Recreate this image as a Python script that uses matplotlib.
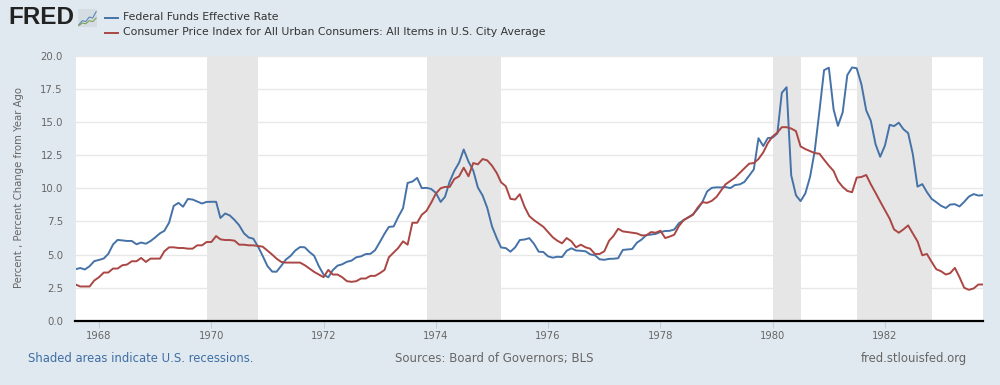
import pandas as pd
import matplotlib
matplotlib.use("Agg")
import matplotlib.pyplot as plt
import matplotlib.dates as mdates

# monthly values, Aug 1967 - Oct 1983
dates = pd.date_range("1967-08-01", "1983-10-01", freq="MS")

fedfunds = [3.90, 3.99, 3.88, 4.13, 4.51,
            4.60, 4.71, 5.05, 5.76, 6.11, 6.07, 6.03, 6.03, 5.78, 5.91, 5.82, 6.02,
            6.30, 6.61, 6.79, 7.41, 8.67, 8.90, 8.61, 9.19, 9.15, 9.00, 8.85, 8.97,
            8.98, 8.98, 7.76, 8.10, 7.95, 7.61, 7.21, 6.61, 6.29, 6.20, 5.60, 4.90,
            4.14, 3.72, 3.71, 4.16, 4.63, 4.91, 5.31, 5.57, 5.55, 5.20, 4.91, 4.14,
            3.50, 3.29, 3.83, 4.17, 4.27, 4.46, 4.55, 4.80, 4.87, 5.04, 5.06, 5.33,
            5.94, 6.58, 7.09, 7.12, 7.84, 8.49, 10.40, 10.50, 10.78, 10.01, 10.03, 9.95,
            9.65, 8.97, 9.35, 10.51, 11.31, 11.93, 12.92, 12.01, 11.34, 10.06, 9.45, 8.53,
            7.13, 6.24, 5.54, 5.49, 5.22, 5.55, 6.10, 6.14, 6.24, 5.82, 5.22, 5.20,
            4.87, 4.77, 4.84, 4.82, 5.29, 5.48, 5.31, 5.29, 5.25, 5.02, 4.95, 4.65,
            4.61, 4.68, 4.69, 4.73, 5.35, 5.39, 5.42, 5.90, 6.14, 6.47, 6.51, 6.56,
            6.70, 6.78, 6.79, 6.89, 7.36, 7.60, 7.81, 8.04, 8.45, 8.96, 9.76, 10.03,
            10.07, 10.06, 10.09, 10.01, 10.24, 10.29, 10.47, 10.94, 11.43, 13.77, 13.18, 13.78,
            13.82, 14.13, 17.19, 17.61, 10.98, 9.47, 9.03, 9.61, 10.87, 12.81, 15.85, 18.90,
            19.08, 15.93, 14.70, 15.72, 18.52, 19.10, 19.04, 17.82, 15.87, 15.08, 13.31, 12.37,
            13.22, 14.78, 14.68, 14.94, 14.45, 14.15, 12.59, 10.12, 10.31, 9.71, 9.20, 8.95,
            8.68, 8.51, 8.77, 8.80, 8.63, 8.98, 9.37, 9.56, 9.45, 9.48]

cpi = [2.75, 2.6, 2.6, 2.6, 3.05,
       3.3, 3.65, 3.65, 3.95, 3.95, 4.2, 4.25, 4.5, 4.5, 4.75, 4.45, 4.7,
       4.7, 4.7, 5.25, 5.55, 5.55, 5.5, 5.5, 5.45, 5.45, 5.7, 5.7, 5.95,
       5.95, 6.4, 6.15, 6.1, 6.1, 6.05, 5.75, 5.75, 5.7, 5.7, 5.65, 5.6,
       5.3, 5.0, 4.7, 4.45, 4.4, 4.4, 4.4, 4.4, 4.2, 3.95, 3.7, 3.5,
       3.3, 3.85, 3.5, 3.5, 3.3, 3.0, 2.95, 3.0, 3.2, 3.2, 3.4, 3.4,
       3.6, 3.85, 4.8, 5.15, 5.5, 6.0, 5.75, 7.4, 7.4, 8.0, 8.3, 8.9,
       9.6, 10.0, 10.1, 10.1, 10.7, 10.9, 11.55, 10.9, 11.9, 11.8, 12.2, 12.1,
       11.7, 11.15, 10.45, 10.15, 9.2, 9.15, 9.55, 8.6, 7.9, 7.6, 7.35, 7.1,
       6.7, 6.3, 6.05, 5.85, 6.25, 6.0, 5.55, 5.75, 5.55, 5.45, 5.05, 5.05,
       5.25, 6.05, 6.4, 6.95, 6.75, 6.7, 6.65, 6.6, 6.45, 6.45, 6.7, 6.65,
       6.8, 6.25, 6.35, 6.5, 7.15, 7.6, 7.8, 8.0, 8.55, 8.95, 8.9, 9.05,
       9.35, 9.85, 10.3, 10.55, 10.8, 11.15, 11.5, 11.85, 11.9, 12.2, 12.7, 13.4,
       13.9, 14.2, 14.6, 14.6, 14.5, 14.3, 13.15, 12.95, 12.8, 12.65, 12.6, 12.15,
       11.7, 11.3, 10.55, 10.1, 9.8, 9.7, 10.8, 10.85, 11.0, 10.3, 9.65, 9.0,
       8.35, 7.7, 6.9, 6.65, 6.9, 7.2, 6.6, 6.0, 4.95, 5.05, 4.45, 3.9,
       3.75, 3.5, 3.6, 4.0, 3.3, 2.5, 2.35, 2.45, 2.75, 2.75]

recessions = [("1969-12-01", "1970-11-01"), ("1973-11-01", "1975-03-01"),
              ("1980-01-01", "1980-07-01"), ("1981-07-01", "1982-11-01")]

yticks = [0, 2.5, 5, 7.5, 10, 12.5, 15, 17.5, 20]
xtick_years = [1968, 1970, 1972, 1974, 1976, 1978, 1980, 1982]

# little chart in the logo
logo_a = [0.12, 0.35, 0.3, 0.55, 0.5, 0.85]
logo_b = [0.08, 0.22, 0.18, 0.35, 0.3, 0.5]

BG = "#e1e9f0"
BLUE = "#4572a7"
RED = "#aa4643"

fig = plt.figure(figsize=(10, 3.85), dpi=100, facecolor=BG)
W, H = 1000, 385
ax = fig.add_axes([75.5 / W, 1 - 321 / H, (983 - 75.5) / W, (321 - 55.5) / H])

for start, end in recessions:
    ax.axvspan(pd.Timestamp(start), pd.Timestamp(end), color="#e6e6e6", lw=0, zorder=2)

ax.plot(dates, fedfunds, color=BLUE, lw=1.4, zorder=3)
ax.plot(dates, cpi, color=RED, lw=1.4, zorder=4)

ax.set_xlim(dates[0], dates[-1])
ax.set_ylim(0, 20)
ax.set_yticks(yticks)
ax.set_yticklabels([f"{v:.1f}" for v in yticks], fontsize=7.3, color="#666666")
ax.set_xticks([pd.Timestamp(f"{y}-01-01") for y in xtick_years])
ax.xaxis.set_major_formatter(mdates.DateFormatter("%Y"))
ax.tick_params(axis="x", length=5, width=0.8, color="#c0d0e0", labelsize=7.2, labelcolor="#666666", pad=2)
ax.tick_params(axis="y", length=0, pad=9)
ax.grid(axis="y", color="#e8e8e8", lw=1, zorder=1)
ax.set_axisbelow(True)
for side in ["top", "left", "right"]:
    ax.spines[side].set_visible(False)
ax.spines["bottom"].set_color("black")
ax.spines["bottom"].set_linewidth(1.6)

fig.text(19 / W, 1 - 187.5 / H, "Percent , Percent Change from Year Ago", rotation=90,
         ha="center", va="center", fontsize=7.25, color="#666666")

# legend
fig.add_artist(plt.Line2D([105 / W, 118 / W], [1 - 17.5 / H] * 2, color=BLUE, lw=1.4))
fig.add_artist(plt.Line2D([105 / W, 118 / W], [1 - 32.5 / H] * 2, color=RED, lw=1.4))
fig.text(123 / W, 1 - 17 / H, "Federal Funds Effective Rate", va="center", fontsize=7.87, color="#333333")
fig.text(123 / W, 1 - 32 / H, "Consumer Price Index for All Urban Consumers: All Items in U.S. City Average",
         va="center", fontsize=7.87, color="#333333")

# logo
fig.text(8 / W, 1 - 18 / H, "FRED", va="center", fontsize=17.5, fontweight="bold",
         family="Liberation Sans", color="#222222")
logo = fig.add_axes([78 / W, 1 - 27 / H, 19 / W, 18 / H], facecolor="#d5dde2")
logo.plot(logo_a, color="#5b86b5", lw=0.8)
logo.plot(logo_b, color="#7fa35a", lw=0.8)
logo.set_ylim(0, 1)
logo.set_xticks([])
logo.set_yticks([])
for s in logo.spines.values():
    s.set_visible(False)

# footer
fig.text(28 / W, 1 - 358.5 / H, "Shaded areas indicate U.S. recessions.", va="center", fontsize=8.35, color="#3f6ea5")
fig.text(395 / W, 1 - 358.5 / H, "Sources: Board of Governors; BLS", va="center", fontsize=8.5, color="#666666")
fig.text(967 / W, 1 - 358.5 / H, "fred.stlouisfed.org", va="center", ha="right", fontsize=8.4, color="#666666")

fig.savefig("out.png", dpi=100, facecolor=BG)
